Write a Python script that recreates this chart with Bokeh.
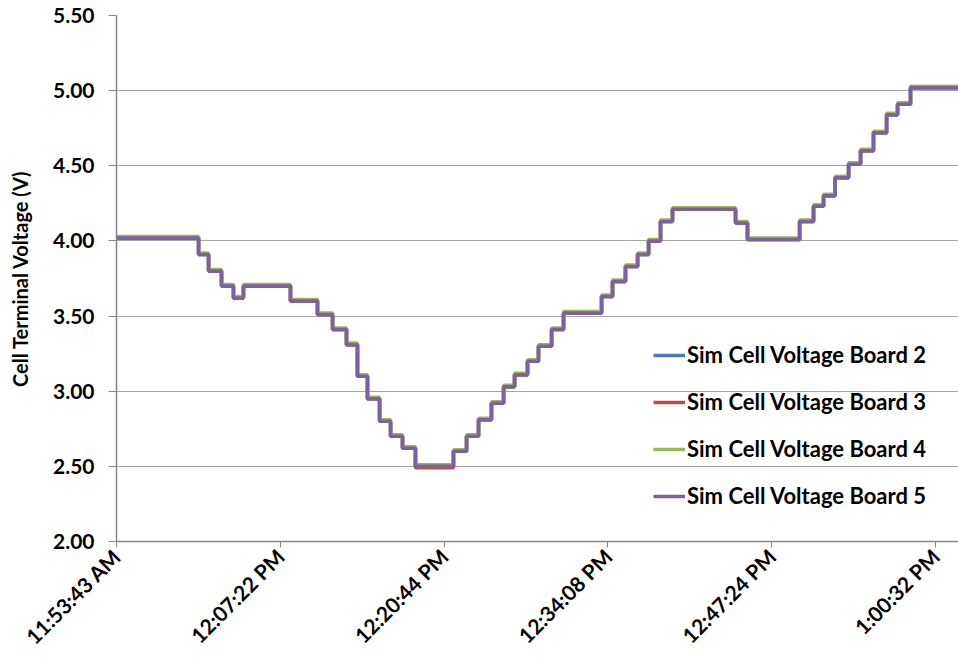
from math import pi
from bokeh.plotting import figure
from bokeh.models import Range1d, FixedTicker, Legend, LegendItem, PrintfTickFormatter
from bokeh.embed import file_html
from bokeh.resources import INLINE

# category tick labels (equally spaced sample positions)
tick_pos = [0, 100, 200, 300, 400, 500]
tick_labels = ["11:53:43 AM", "12:07:22 PM", "12:20:44 PM",
               "12:34:08 PM", "12:47:24 PM", "1:00:32 PM"]

# step change positions (sample index)
step_x = [0, 50.1, 56.2, 64.1, 71.4, 77.5, 106.2, 122.7, 131.9, 140.4, 147.1,
          153.2, 160.6, 167.3, 174.6, 182.5, 205.7, 213.7, 221.0, 228.9, 236.3,
          243.0, 250.9, 257.6, 265.6, 272.9, 296.1, 302.8, 310.7, 318.1, 324.8,
          332.1, 339.4, 377.9, 385.2, 417.0, 425.5, 431.6, 438.7, 446.9, 454.2,
          462.1, 470.1, 476.8, 484.7, 514.0]

board2 = [4.02, 3.91, 3.80, 3.70, 3.62, 3.70, 3.60, 3.51, 3.41, 3.31, 3.10,
          2.95, 2.80, 2.70, 2.62, 2.50, 2.60, 2.70, 2.81, 2.92, 3.03,
          3.11, 3.20, 3.30, 3.41, 3.52, 3.63, 3.73, 3.83, 3.91, 4.00,
          4.13, 4.21, 4.12, 4.01, 4.13, 4.23, 4.30, 4.42, 4.51, 4.60,
          4.72, 4.84, 4.91, 5.02, 5.02]
board3 = [4.02, 3.91, 3.80, 3.70, 3.62, 3.70, 3.60, 3.51, 3.41, 3.31, 3.10,
          2.95, 2.80, 2.70, 2.62, 2.49, 2.60, 2.70, 2.81, 2.92, 3.03,
          3.11, 3.20, 3.30, 3.41, 3.52, 3.63, 3.73, 3.83, 3.91, 4.00,
          4.13, 4.21, 4.12, 4.01, 4.13, 4.23, 4.30, 4.42, 4.51, 4.60,
          4.72, 4.84, 4.91, 5.02, 5.02]
board4 = [4.03, 3.92, 3.81, 3.71, 3.63, 3.71, 3.61, 3.52, 3.42, 3.32, 3.11,
          2.96, 2.81, 2.71, 2.63, 2.51, 2.61, 2.71, 2.82, 2.93, 3.04,
          3.12, 3.21, 3.31, 3.42, 3.53, 3.64, 3.74, 3.84, 3.92, 4.01,
          4.14, 4.22, 4.13, 4.02, 4.14, 4.24, 4.31, 4.43, 4.52, 4.61,
          4.73, 4.85, 4.92, 5.03, 5.03]
board5 = [4.02, 3.91, 3.80, 3.70, 3.62, 3.70, 3.60, 3.51, 3.41, 3.31, 3.10,
          2.95, 2.80, 2.70, 2.62, 2.50, 2.60, 2.70, 2.81, 2.92, 3.03,
          3.11, 3.20, 3.30, 3.41, 3.52, 3.63, 3.73, 3.83, 3.91, 4.00,
          4.13, 4.21, 4.12, 4.01, 4.13, 4.23, 4.30, 4.42, 4.51, 4.60,
          4.72, 4.84, 4.91, 5.02, 5.02]

series_names = ["Sim Cell Voltage Board 2", "Sim Cell Voltage Board 3",
                "Sim Cell Voltage Board 4", "Sim Cell Voltage Board 5"]
series_vals = [board2, board3, board4, board5]
colors = ["#4A7EBB", "#BE4B48", "#98B954", "#7D60A0"]

y_ticks = [2.0, 2.5, 3.0, 3.5, 4.0, 4.5, 5.0, 5.5]

FONT = "Lato"

p = figure(width=958, height=662, output_backend="svg", toolbar_location=None,
           x_range=Range1d(0, 514), y_range=Range1d(2.0, 5.5),
           min_border_left=116, min_border_right=0, min_border_top=15,
           min_border_bottom=121)
p.outline_line_color = None
p.background_fill_color = "white"

items = []
for name, vals, col in zip(series_names, series_vals, colors):
    r = p.step(step_x, vals, mode="after", line_color=col, line_width=3.5)
    items.append(LegendItem(label=name, renderers=[r]))

# axes
p.xaxis.ticker = FixedTicker(ticks=tick_pos)
p.xaxis.major_label_overrides = {t: l for t, l in zip(tick_pos, tick_labels)}
p.xaxis.major_label_orientation = pi / 4
p.xaxis.minor_tick_line_color = None
p.xaxis.major_tick_in = 0
p.xaxis.major_tick_out = 6
p.xaxis.axis_line_color = "#868686"
p.xaxis.axis_line_width = 1.5
p.xaxis.major_tick_line_color = "#868686"
p.xaxis.major_label_text_font = FONT
p.xaxis.major_label_text_font_style = "bold"
p.xaxis.major_label_text_font_size = "21px"
p.xaxis.major_label_text_color = "black"

p.yaxis.ticker = FixedTicker(ticks=y_ticks)
p.yaxis.formatter = PrintfTickFormatter(format="%.2f")
p.yaxis.minor_tick_line_color = None
p.yaxis.major_tick_in = 0
p.yaxis.major_tick_out = 8
p.yaxis.axis_line_color = "#868686"
p.yaxis.axis_line_width = 1.5
p.yaxis.major_tick_line_color = "#868686"
p.yaxis.major_label_text_font = FONT
p.yaxis.major_label_text_font_style = "bold"
p.yaxis.major_label_text_font_size = "21px"
p.yaxis.major_label_text_color = "black"
p.yaxis.major_label_standoff = 14
p.yaxis.axis_label = "Cell Terminal Voltage (V)"
p.yaxis.axis_label_text_font = FONT
p.yaxis.axis_label_text_font_style = "bold"
p.yaxis.axis_label_text_font_size = "20px"
p.yaxis.axis_label_text_color = "black"
p.yaxis.axis_label_standoff = 18

p.xgrid.grid_line_color = None
p.ygrid.ticker = FixedTicker(ticks=y_ticks)
p.ygrid.grid_line_color = "#A6A6A6"
p.ygrid.grid_line_width = 1.2

legend = Legend(items=items, location=(537, 32), orientation="vertical",
                background_fill_alpha=0, border_line_color=None,
                glyph_width=32, glyph_height=22, label_height=22,
                label_standoff=2, spacing=20, padding=0, margin=0,
                label_text_font=FONT, label_text_font_style="bold",
                label_text_font_size="22px", label_text_color="black")
p.add_layout(legend, "center")

open("out.html", "w").write(file_html(p, INLINE))
